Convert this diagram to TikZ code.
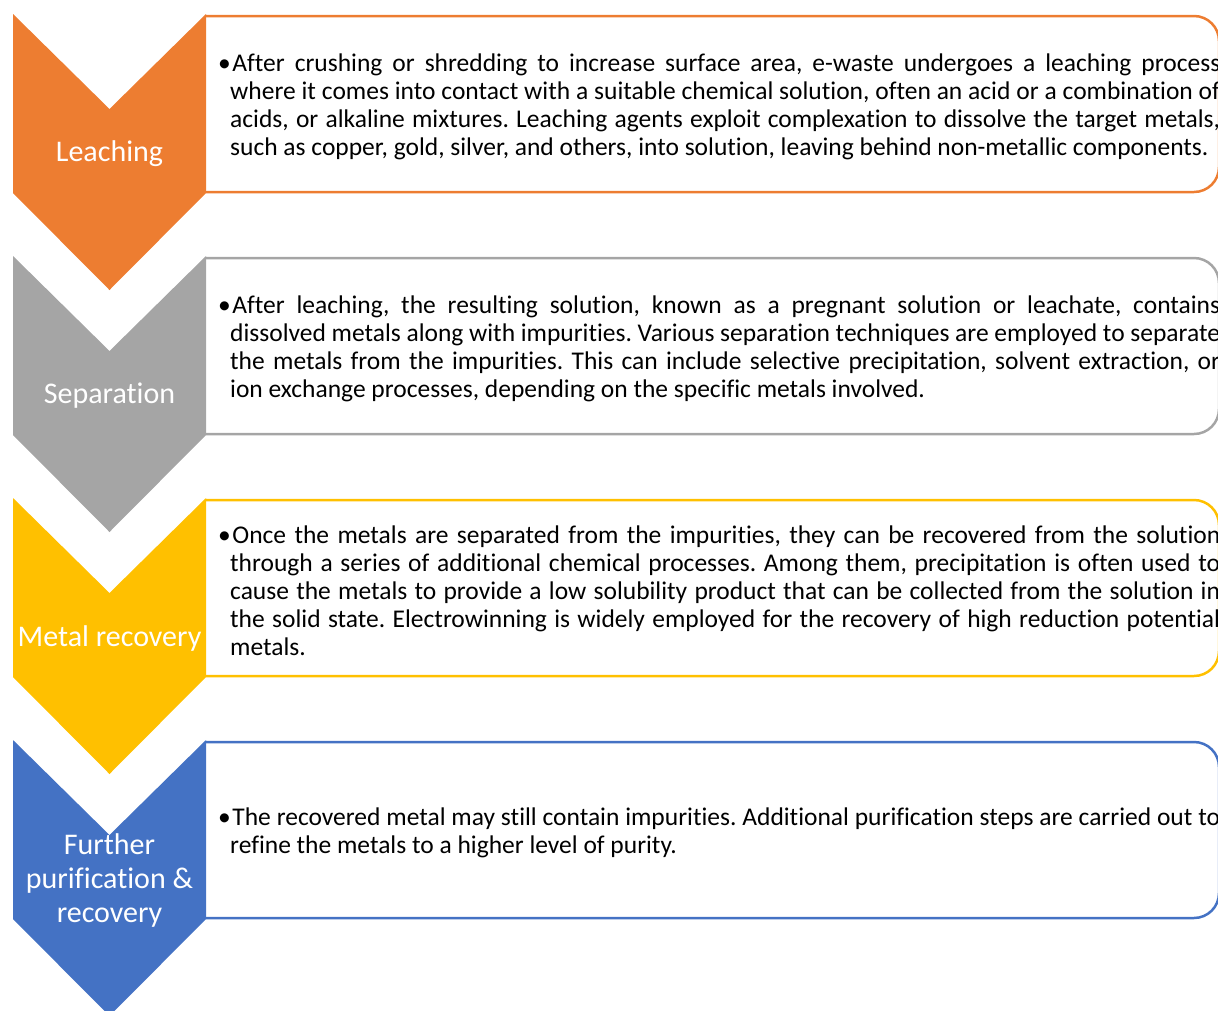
\documentclass[tikz,border=0pt]{standalone}
\usepackage{fontspec}
\setmainfont{Carlito}[Ligatures=NoCommon]
\frenchspacing
\definecolor{leachorange}{HTML}{ED7D31}
\definecolor{sepgray}{HTML}{A5A5A5}
\definecolor{recgold}{HTML}{FFC000}
\definecolor{purblue}{HTML}{4472C4}
\newcommand{\bul}{\hangindent=12pt\hangafter=1\textbullet\hspace{1.5pt}}
\newcommand{\leachtext}{\bul After crushing or shredding to increase surface area, e-waste undergoes a leaching process\linebreak
where it comes into contact with a suitable chemical solution, often an acid or a combination of\linebreak
acids, or alkaline mixtures. Leaching agents exploit complexation to dissolve the target metals,\linebreak
such as copper, gold, silver, and others, into solution, leaving behind non-metallic components.\par}
\newcommand{\septext}{\bul After leaching, the resulting solution, known as a pregnant solution or leachate, contains\linebreak
dissolved metals along with impurities. Various separation techniques are employed to separate\linebreak
the metals from the impurities. This can include selective precipitation, solvent extraction, or\linebreak
ion exchange processes, depending on the specific metals involved.\par}
\newcommand{\rectext}{\bul Once the metals are separated from the impurities, they can be recovered from the solution\linebreak
through a series of additional chemical processes. Among them, precipitation is often used to\linebreak
cause the metals to provide a low solubility product that can be collected from the solution in\linebreak
the solid state. Electrowinning is widely employed for the recovery of high reduction potential\linebreak
metals.\par}
\newcommand{\purtext}{\bul The recovered metal may still contain impurities. Additional purification steps are carried out to\linebreak
refine the metals to a higher level of purity.\par}

\begin{document}
\begin{tikzpicture}[x=1pt,y=-1pt,
    steplabel/.style={text=white, align=center, inner sep=0pt,
      font=\fontsize{30}{34}\selectfont},
    desctext/.style={anchor=west, text width=1002pt, align=justify, inner sep=0pt,
      font=\fontsize{25.5}{28}\selectfont},
    descbox/.style={line width=2.5pt, rounded corners=25pt}]
  \useasboundingbox (0,0) rectangle (1218,1010);
  % chevrons and boxes
  \foreach \n/\col/\lab/\txt [evaluate=\n as \yy using 14+242*\n] in
    {0/leachorange/Leaching/\leachtext,
     1/sepgray/Separation/\septext,
     2/recgold/Metal recovery/\rectext,
     3/purblue/{Further\\purification \&\\recovery}/\purtext}
   {
    %box
    \draw[descbox, color=\col] (206,\yy+2) -- (1219,\yy+2) -- (1219,\yy+178) -- (206,\yy+178);
    %chevron
    \fill[\col] (13,\yy) -- (109.5,\yy+95) -- (206,\yy) -- (206,\yy+179)
      -- (109.5,\yy+276) -- (13,\yy+179) -- cycle;
    \node[steplabel] (step\n) at (109.5,\yy+140) {\lab};
    \node[desctext] (desc\n) at (218,\yy+92.5) {\txt};
   }
\end{tikzpicture}
\end{document}
